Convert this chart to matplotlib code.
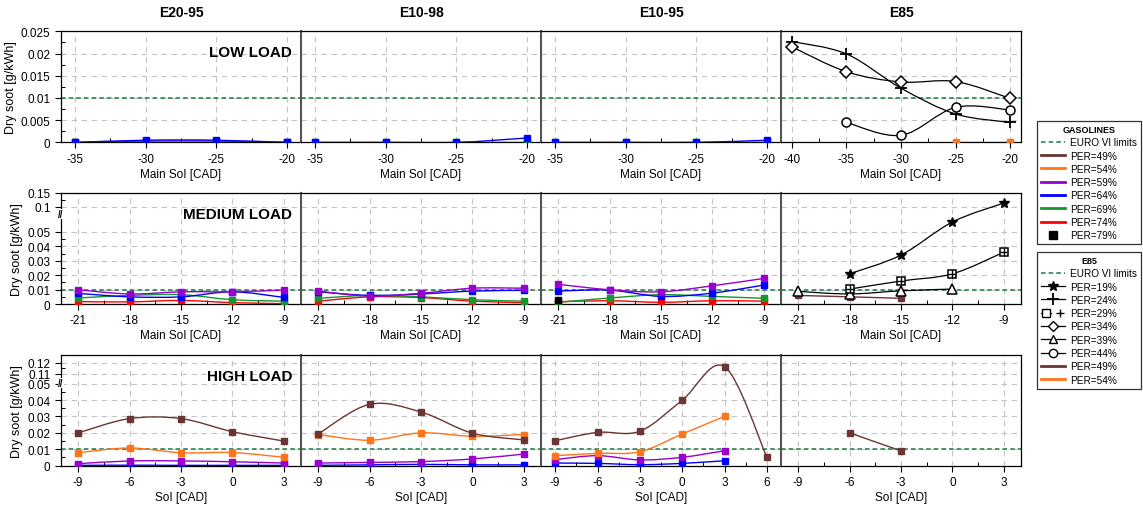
import matplotlib
matplotlib.use('Agg')
import matplotlib.pyplot as plt
import numpy as np
from matplotlib.path import Path
from matplotlib.patches import PathPatch
from matplotlib.lines import Line2D
from matplotlib.legend_handler import HandlerTuple

plt.rcParams['font.family'] = ['Liberation Sans', 'DejaVu Sans']
plt.rcParams['axes.unicode_minus'] = False

# ---- data ----
fuels = ['E20-95', 'E10-98', 'E10-95', 'E85']
loads = ['LOW LOAD', 'MEDIUM LOAD', 'HIGH LOAD']
euro_vi = 0.01

low_x = [-35, -30, -25, -20]
low_x_e85 = [-40, -35, -30, -25, -20]
med_x = [-21, -18, -15, -12, -9]
high_x = [-9, -6, -3, 0, 3]
high_x_e1095 = [-9, -6, -3, 0, 3, 6]

# low load
low_e2095 = {'PER=69%': [0, 0, 0, 0],
             'PER=59%': [0, 0.0003, 0.0003, 0],
             'PER=64%': [0, 0.0005, 0.0005, 0]}
low_e1098 = {'PER=69%': [0, 0, 0, 0],
             'PER=64%': [0, 0, 0, 0.001]}
low_e1095 = {'PER=69%': [0, 0, 0, 0],
             'PER=64%': [0, 0, 0, 0.0005]}
low_e85 = {'PER=54%': [None, None, None, 0, 0],
           'PER=24%': [0.0227, 0.0199, 0.0122, 0.0064, 0.0045],
           'PER=34%': [0.0215, 0.0159, 0.0136, 0.0137, 0.0099],
           'PER=44%': [None, 0.0045, 0.0016, 0.0079, 0.0073]}

# medium load
med_e2095 = {'PER=74%': [0.0017, 0.0015, 0.0025, 0.001, 0.0003],
             'PER=69%': [0.0042, 0.006, 0.0065, 0.003, 0.002],
             'PER=64%': [0.0074, 0.005, 0.005, 0.0085, 0.0046],
             'PER=59%': [0.0099, 0.007, 0.0085, 0.0085, 0.0097]}
med_e1098 = {'PER=74%': [0.002, 0.005, 0.0045, 0.002, 0.001],
             'PER=69%': [0.004, 0.006, 0.005, 0.003, 0.002],
             'PER=64%': [0.0085, 0.006, 0.007, 0.009, 0.0095],
             'PER=59%': [0.009, 0.0055, 0.0075, 0.011, 0.011]}
med_e1095 = {'PER=74%': [0.0016, 0.0023, 0.0012, 0.0023, 0.002],
             'PER=69%': [0.0012, 0.0042, 0.0065, 0.0053, 0.004],
             'PER=64%': [0.009, 0.0097, 0.0053, 0.0076, 0.0132],
             'PER=59%': [0.0137, 0.0099, 0.0085, 0.0127, 0.0178],
             'PER=79%': [0.003, None, None, None, None]}
med_e85 = {'PER=49%': [0.006, 0.005, 0.004, None, None],
           'PER=39%': [0.0088, 0.007, 0.0092, 0.0104, None],
           'PER=29%': [None, 0.0104, 0.016, 0.021, 0.036],
           'PER=19%': [None, 0.021, 0.034, 0.07, 0.114]}

# high load
high_e2095 = {'PER=64%': [0.0002, 0.0003, 0.0002, 0.0002, 0.0002],
              'PER=59%': [0.0012, 0.0029, 0.0029, 0.0024, 0.0016],
              'PER=54%': [0.0079, 0.0108, 0.0079, 0.008, 0.0051],
              'PER=49%': [0.02, 0.0287, 0.0287, 0.0207, 0.015]}
high_e1098 = {'PER=64%': [0.0002, 0.0005, 0.0008, 0.0005, 0.0005],
              'PER=59%': [0.0016, 0.002, 0.0025, 0.0041, 0.0071],
              'PER=54%': [0.019, 0.0155, 0.02, 0.0179, 0.019],
              'PER=49%': [0.0193, 0.0374, 0.0327, 0.0198, 0.0157]}
high_e1095 = {'PER=64%': [0.0016, 0.0014, 0.0006, 0.0014, 0.003, None],
              'PER=59%': [0.0037, 0.0061, 0.0035, 0.0051, 0.0091, None],
              'PER=54%': [0.0061, 0.0075, 0.0085, 0.0193, 0.0301, None],
              'PER=49%': [0.0152, 0.0203, 0.021, 0.0399, 0.1164, 0.0051]}
high_e85 = {'PER=49%': [None, 0.02, 0.009, None, None]}

# y tick values per row
low_yticks = [0, 0.005, 0.01, 0.015, 0.02, 0.025]
low_ylabels = ['0', '0.005', '0.01', '0.015', '0.02', '0.025']
med_yticks = [0, 0.01, 0.02, 0.03, 0.04, 0.05, 0.1, 0.15]
med_ylabels = ['0', '0.01', '0.02', '0.03', '0.04', '0.05', '0.1', '0.15']
high_yticks = [0, 0.01, 0.02, 0.03, 0.04, 0.05, 0.11, 0.12]
high_ylabels = ['0', '0.01', '0.02', '0.03', '0.04', '0.05', '0.11', '0.12']

# ---- styles ----
colors = {'PER=49%': '#6B3535', 'PER=54%': '#FF7418', 'PER=59%': '#9A00CC',
          'PER=64%': '#0000FF', 'PER=69%': '#12982F', 'PER=74%': '#FF0000',
          'PER=79%': 'black'}
e85_markers = {'PER=19%': '*', 'PER=24%': '+', 'PER=29%': 's',
               'PER=34%': 'D', 'PER=39%': '^', 'PER=44%': 'o'}
euro_col = '#1B7A45'


# broken y axis -> piecewise linear scale
def make_scale(yk, sk):
    yk = np.asarray(yk, float)
    sk = np.asarray(sk, float)
    def fwd(y):
        return np.interp(np.asarray(y, float), yk, sk)
    def inv(s):
        return np.interp(np.asarray(s, float), sk, yk)
    return fwd, inv


lin = (lambda y: np.asarray(y, float), lambda s: np.asarray(s, float))
med_scale = make_scale([-1, 0, 0.05, 0.1, 0.15, 10],
                       [-1, 0, 0.05, 0.06736, 0.07708, 0.07708 + 9.85 * 0.1944])
high_scale = make_scale([-1, 0, 0.05, 0.11, 0.12, 10],
                        [-1, 0, 0.05, 0.05607, 0.06274, 0.06274 + 9.88 * 0.667])


def smooth_line(ax, xs, ys, scale, color, lw=1.0):
    fwd, inv = scale
    pts = [(x, y) for x, y in zip(xs, ys) if y is not None]
    if len(pts) < 2:
        return
    x = np.array([p[0] for p in pts], float)
    s = fwd([p[1] for p in pts])
    P = np.column_stack([x, s])
    n = len(P)
    verts = [P[0]]
    codes = [Path.MOVETO]
    for i in range(n - 1):
        p0 = P[i - 1] if i > 0 else P[i]
        p3 = P[i + 2] if i + 2 < n else P[i + 1]
        c1 = P[i] + (P[i + 1] - p0) / 6
        c2 = P[i + 1] - (p3 - P[i]) / 6
        verts += [c1, c2, P[i + 1]]
        codes += [Path.CURVE4] * 3
    verts = np.array(verts)
    verts[:, 1] = inv(verts[:, 1])
    ax.add_patch(PathPatch(Path(verts, codes), fill=False, edgecolor=color,
                           lw=lw, zorder=3))


def draw_series(ax, xs, series, scale):
    for key, vals in series.items():
        px = [x for x, v in zip(xs, vals) if v is not None]
        py = [v for v in vals if v is not None]
        if key in e85_markers:
            smooth_line(ax, xs, vals, scale, 'black', lw=0.9)
            m = e85_markers[key]
            if m == '*':
                ax.plot(px, py, ls='none', marker='*', ms=7.5, color='black', zorder=5)
            elif m == '+':
                ax.plot(px, py, ls='none', marker='+', ms=9, mew=1.3, color='black', zorder=5)
            elif m == 's':
                ax.plot(px, py, ls='none', marker='s', ms=6, mfc='white', mec='black', mew=1.1, zorder=5)
                ax.plot(px, py, ls='none', marker='+', ms=6, mew=1.0, color='black', zorder=6)
            else:
                ax.plot(px, py, ls='none', marker=m, ms=6.5, mfc='white', mec='black', mew=1.1, zorder=5)
        else:
            c = colors[key]
            smooth_line(ax, xs, vals, scale, c, lw=1.0)
            ax.plot(px, py, ls='none', marker='s', ms=4, color=c, zorder=4)


fig = plt.figure(figsize=(11.43, 5.06), dpi=100)
gs = fig.add_gridspec(3, 4, left=0.0534, right=0.8933, top=0.9362, bottom=0.0777,
                      wspace=0, hspace=0.454)
axes = [[fig.add_subplot(gs[r, c]) for c in range(4)] for r in range(3)]

panel_data = [
    [(low_x, low_e2095), (low_x, low_e1098), (low_x, low_e1095), (low_x_e85, low_e85)],
    [(med_x, med_e2095), (med_x, med_e1098), (med_x, med_e1095), (med_x, med_e85)],
    [(high_x, high_e2095), (high_x, high_e1098), (high_x_e1095, high_e1095), (high_x, high_e85)],
]
row_scales = [lin, med_scale, high_scale]
row_ylim = [(0, 0.025), (0, 0.15), (0, 0.1275)]
row_ticks = [(low_yticks, low_ylabels), (med_yticks, med_ylabels), (high_yticks, high_ylabels)]
row_minor = [[0.0025, 0.0075, 0.0125, 0.0175, 0.0225],
             [0.005, 0.015, 0.025, 0.035, 0.045, 0.125],
             [0.005, 0.015, 0.025, 0.035, 0.045, 0.115]]
row_xlabel = ['Main SoI [CAD]', 'Main SoI [CAD]', 'SoI [CAD]']
row_break = [None, 0.086, 0.054]

for r in range(3):
    for c in range(4):
        ax = axes[r][c]
        xs, series = panel_data[r][c]
        if r > 0:
            ax.set_yscale('function', functions=row_scales[r])
        draw_series(ax, xs, series, row_scales[r])
        ax.axhline(euro_vi, color=euro_col, ls=(0, (3, 2)), lw=1.1, zorder=2)

        step = xs[1] - xs[0]
        ax.set_xlim(xs[0] - 1, xs[-1] + 1)
        ax.set_xticks(xs)
        ax.set_xticks([x + step / 2 for x in xs[:-1]], minor=True)
        ax.set_ylim(*row_ylim[r])
        ax.set_yticks(row_ticks[r][0], row_ticks[r][1])
        ax.set_yticks(row_minor[r], minor=True)
        ax.grid(True, which='major', color='#C4C4C4', ls=(0, (5, 4)), lw=0.8)
        ax.set_axisbelow(True)
        ax.tick_params(which='major', direction='out', length=4, width=0.8,
                       labelsize=8.5, colors='black')
        ax.tick_params(which='minor', direction='in', length=3, width=0.7)
        ax.set_xlabel(row_xlabel[r], fontsize=8.5, labelpad=2)
        for sp in ax.spines.values():
            sp.set_linewidth(0.9)
        if c == 0:
            ax.set_ylabel('Dry soot [g/kWh]', fontsize=9, labelpad=3)
            ax.text(0.9625, 0.81, loads[r], transform=ax.transAxes, ha='right',
                    va='center', fontsize=11, fontweight='bold', zorder=7)
            if row_break[r] is not None:
                ax.text(0, row_break[r], '//', transform=ax.get_yaxis_transform(),
                        ha='center', va='center', fontsize=7, fontweight='bold',
                        bbox=dict(facecolor='white', edgecolor='none', pad=0.2), zorder=8)
        else:
            ax.tick_params(axis='y', which='both', left=False, labelleft=False)
            ax.spines['left'].set_linewidth(1.5)
            ax.spines['left'].set_color('#555555')
        if r == 0:
            ax.set_title(fuels[c], fontsize=10, fontweight='bold', pad=11)

# ---- legends ----
euro_h = Line2D([], [], color=euro_col, ls=(0, (3, 2)), lw=1.1)
gas_keys = ['PER=49%', 'PER=54%', 'PER=59%', 'PER=64%', 'PER=69%', 'PER=74%']
gas_handles = [euro_h] + [Line2D([], [], color=colors[k], lw=2) for k in gas_keys]
gas_handles.append(Line2D([], [], ls='none', marker='s', ms=6, color='black'))
gas_labels = ['EURO VI limits'] + gas_keys + ['PER=79%']

e85_handles = [euro_h,
               Line2D([], [], color='black', lw=0.9, marker='*', ms=7),
               Line2D([], [], color='black', lw=0.9, marker='+', ms=8, mew=1.3),
               (Line2D([], [], color='black', lw=0.9, marker='s', ms=6, mfc='white', mew=1.0),
                Line2D([], [], ls='none', color='black', marker='+', ms=6, mew=1.0)),
               Line2D([], [], color='black', lw=0.9, marker='D', ms=5, mfc='white', mew=1.0),
               Line2D([], [], color='black', lw=0.9, marker='^', ms=6, mfc='white', mew=1.0),
               Line2D([], [], color='black', lw=0.9, marker='o', ms=6, mfc='white', mew=1.0),
               Line2D([], [], color=colors['PER=49%'], lw=2),
               Line2D([], [], color=colors['PER=54%'], lw=2)]
e85_labels = ['EURO VI limits', 'PER=19%', 'PER=24%', 'PER=29%', 'PER=34%',
              'PER=39%', 'PER=44%', 'PER=49%', 'PER=54%']

leg_kw = dict(loc='upper left', fontsize=7.2, frameon=True, fancybox=False,
              edgecolor='black', handlelength=2.4, labelspacing=0.33,
              borderpad=0.4, handletextpad=0.5, borderaxespad=0,
              title_fontproperties={'weight': 'bold', 'size': 6.5},
              handler_map={tuple: HandlerTuple(ndivide=None)})
leg1 = fig.legend(gas_handles, gas_labels, title='GASOLINES',
                  bbox_to_anchor=(0.9073, 0.7589), **leg_kw)
leg1.get_frame().set_linewidth(0.9)
leg2 = fig.legend(e85_handles, e85_labels, title='E85',
                  bbox_to_anchor=(0.9073, 0.5), **leg_kw)
leg2.get_frame().set_linewidth(0.9)

fig.savefig('out.png', dpi=100)
